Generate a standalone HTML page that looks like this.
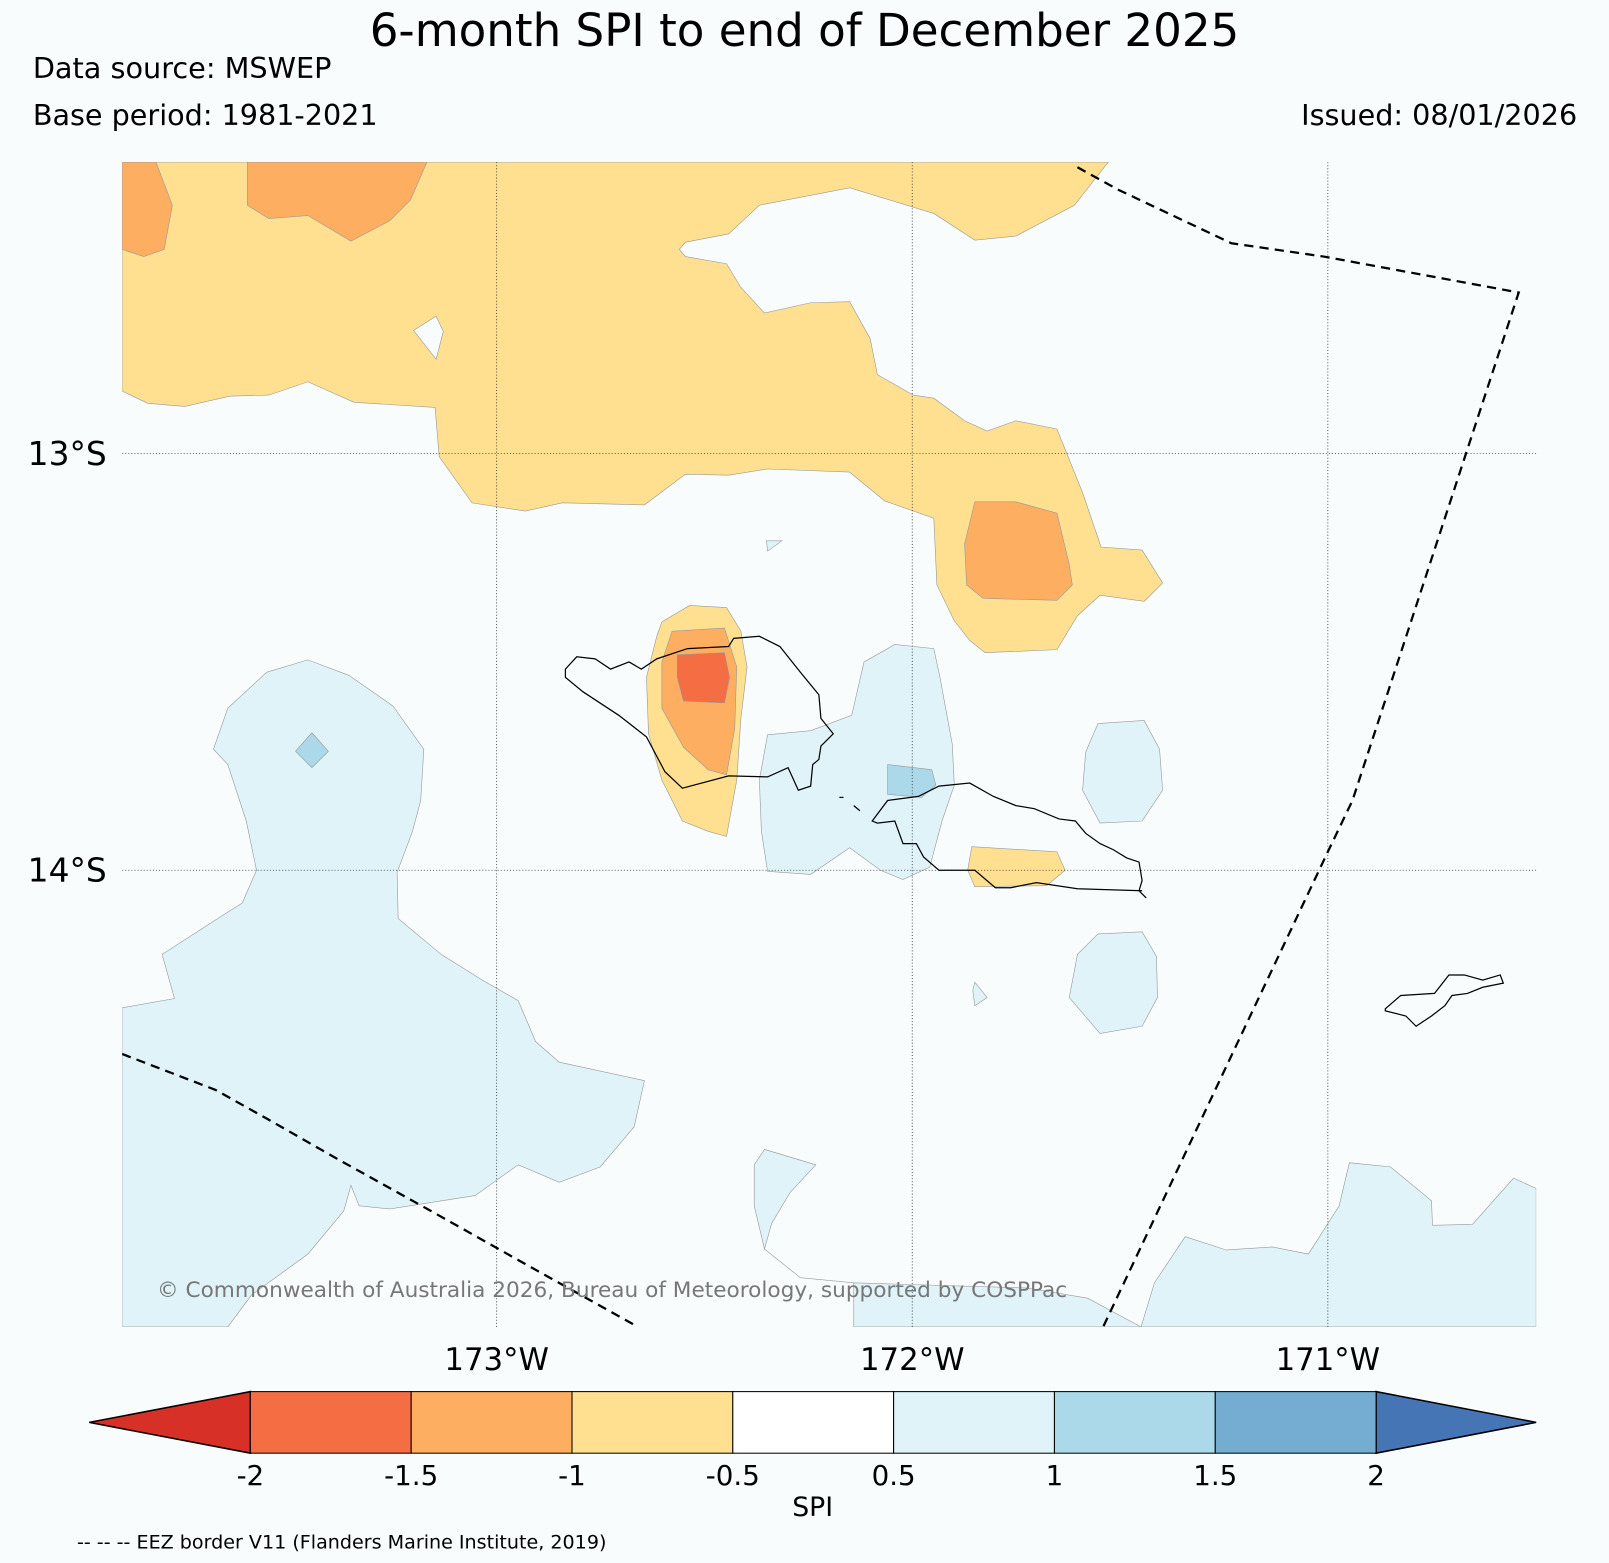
<!DOCTYPE html>
<html><head><meta charset="utf-8"><style>
html,body{margin:0;padding:0;background:#f8fcfd;}
svg{display:block;font-family:"DejaVu Sans","Liberation Sans",sans-serif;}
</style></head><body>
<svg id="fig" width="1609" height="1563" viewBox="0 0 1568 1523" preserveAspectRatio="none" xmlns="http://www.w3.org/2000/svg">
<rect width="1568" height="1523" fill="#f8fcfd"/>
<text x="784" y="45" font-size="44" text-anchor="middle">6-month SPI to end of December 2025</text>
<text x="32" y="76" font-size="28" textLength="291" lengthAdjust="spacingAndGlyphs">Data source: MSWEP</text>
<text x="32" y="122" font-size="28" textLength="336" lengthAdjust="spacingAndGlyphs">Base period: 1981-2021</text>
<text x="1537" y="122" font-size="28" text-anchor="end" textLength="269" lengthAdjust="spacingAndGlyphs">Issued: 08/01/2026</text>
<defs><clipPath id="mc"><rect x="119" y="158" width="1378" height="1135"/></clipPath></defs>
<g id="map" clip-path="url(#mc)" stroke="#999" stroke-width="0.6">
<polygon fill="#fee090" points="119,158 1080,158 1047,200 990,230 950,234 910,208 828,183 740,200 710,228 668,236 662,243 668,250 708,257 722,280 745,305 790,295 828,294 848,330 855,365 890,385 910,388 940,410 962,420 990,410 1030,418 1055,480 1073,533 1113,536 1133,568 1115,586 1072,580 1050,600 1030,633 960,636 945,624 930,605 913,570 910,505 862,488 828,460 748,457 710,463 668,462 628,492 548,490 512,498 460,490 428,445 424,397 345,392 300,372 262,385 224,386 180,396 144,393 119,381"/>
<polygon fill="#f8fcfd" points="403,322 425,308 432,323 425,350"/>
<polygon fill="#fdae61" points="119,158 152,158 168,200 160,243 140,250 119,243"/>
<polygon fill="#fdae61" points="241,158 416,158 400,195 380,215 342,235 300,210 262,213 241,200"/>
<polygon fill="#fdae61" points="950,489 990,489 1030,500 1042,550 1045,570 1030,585 958,583 942,570 940,530"/>
<polygon fill="#fee090" points="645,606 672,590 708,592 722,615 728,650 722,700 718,760 708,815 690,810 665,800 645,760 632,715 630,660 640,620"/>
<polygon fill="#fdae61" points="655,615 706,612 718,650 716,710 708,755 690,750 666,728 645,690 645,645"/>
<polygon fill="#f46d43" points="660,638 706,636 711,660 706,685 666,683 660,660"/>
<polygon fill="#e0f3f8" points="119,982 170,973 158,930 220,890 236,880 250,848 240,800 222,745 208,730 222,690 260,655 300,643 340,658 383,688 413,730 410,780 402,810 387,850 388,895 430,930 470,955 505,975 522,1015 545,1035 628,1053 618,1098 585,1137 545,1152 505,1135 463,1165 380,1178 350,1175 342,1155 335,1180 300,1222 245,1262 222,1293 119,1293"/>
<polygon fill="#abd9e9" points="288,732 304,714 320,732 304,748"/>
<polygon fill="#e0f3f8" points="748,716 790,712 830,697 842,645 872,628 910,632 916,660 928,725 930,765 918,800 906,845 880,857 858,848 828,826 790,852 748,849 742,810 740,760"/>
<polygon fill="#abd9e9" points="865,745 908,750 912,765 898,777 865,774"/>
<polygon fill="#fee090" points="947,825 1030,830 1038,848 1020,863 950,864 943,848"/>
<polygon fill="#e0f3f8" points="1070,705 1115,702 1130,730 1133,770 1113,800 1072,802 1055,770 1058,733"/>
<polygon fill="#e0f3f8" points="1070,910 1113,908 1127,932 1128,972 1113,1000 1072,1007 1042,972 1050,930"/>
<polygon fill="#e0f3f8" points="950,957 962,972 950,980 948,965"/>
<polygon fill="#e0f3f8" points="747,527 762,527 748,537"/>
<polygon fill="#e0f3f8" points="735,1135 745,1120 795,1135 770,1162 752,1192 745,1217 735,1175"/>
<polygon fill="#e0f3f8" points="832,1250 1000,1255 1060,1265 1112,1293 832,1293"/>
<polyline fill="none" points="745,1217 780,1245 832,1250"/>
<polygon fill="#e0f3f8" points="1112,1293 1125,1250 1155,1205 1195,1218 1240,1215 1275,1222 1305,1175 1315,1133 1355,1137 1395,1170 1396,1194 1435,1193 1475,1148 1497,1158 1497,1293"/>
<g stroke="#333" stroke-width="0.8" stroke-dasharray="1,2">
<line x1="484" y1="158" x2="484" y2="1293"/><line x1="889" y1="158" x2="889" y2="1293"/><line x1="1294" y1="158" x2="1294" y2="1293"/>
<line x1="119" y1="442" x2="1497" y2="442"/><line x1="119" y1="848" x2="1497" y2="848"/>
</g>
<g fill="none" stroke="#000" stroke-width="1.2">
<polygon points="551,652 562,640 580,642 595,652 613,645 625,652 640,642 670,632 710,630 715,622 740,620 760,630 780,655 798,677 800,700 812,715 800,727 798,740 792,745 790,766 778,770 768,748 748,757 710,756 665,768 648,752 630,718 603,697 568,674 551,660"/>
<polyline points="1117,875 1110,868 1113,858 1110,840 1098,836 1085,828 1072,822 1058,812 1048,800 1032,798 1008,788 990,785 968,776 945,763 915,766 895,776 865,780 850,800 855,802 872,800 880,822 893,822 900,835 915,848 950,848 970,865 985,865 1010,860 1050,866 1113,868"/>
<polygon points="1350,983 1365,970 1398,968 1412,950 1427,950 1445,955 1462,950 1465,958 1445,962 1430,968 1415,970 1408,980 1395,990 1380,1000 1370,990 1350,985"/>
<line x1="818" y1="777" x2="822" y2="777"/><line x1="832" y1="785" x2="838" y2="790"/>
</g>
<g fill="none" stroke="#000" stroke-width="2.2" stroke-dasharray="9,6">
<polyline points="1050,163 1090,185 1200,237 1290,250 1480,285 1318,780 1294,830 1075,1293"/>
<polyline points="119,1027 210,1062 260,1090 330,1130 420,1180 500,1225 620,1292"/>
</g>
</g>
<text x="153" y="1264" font-size="21" fill="#777" textLength="887" lengthAdjust="spacingAndGlyphs">© Commonwealth of Australia 2026, Bureau of Meteorology, supported by COSPPac</text>
<text x="104" y="453" font-size="32" text-anchor="end">13°S</text>
<text x="104" y="859" font-size="32" text-anchor="end">14°S</text>
<text x="484" y="1335" font-size="30" text-anchor="middle">173°W</text>
<text x="889" y="1335" font-size="30" text-anchor="middle">172°W</text>
<text x="1294" y="1335" font-size="30" text-anchor="middle">171°W</text>
<g id="cbar"></g>
<text x="792" y="1477" font-size="26" text-anchor="middle">SPI</text>
<text x="75" y="1509" font-size="18" textLength="516" lengthAdjust="spacingAndGlyphs">-- -- -- EEZ border V11 (Flanders Marine Institute, 2019)</text>
</svg>
<script>
const levels = [-2, -1.5, -1, -0.5, 0.5, 1, 1.5, 2];
const tickLabels = ["-2", "-1.5", "-1", "-0.5", "0.5", "1", "1.5", "2"];
const binColors = ["#f46d43", "#fdae61", "#fee090", "#ffffff", "#e0f3f8", "#abd9e9", "#74add1"];
const underColor = "#d73027";
const overColor = "#4575b4";
const NS = "http://www.w3.org/2000/svg";
const g = document.getElementById("cbar");
const x0 = 244, x1 = 1341, y0 = 1356, y1 = 1416;
function xi(i) { return x0 + (x1 - x0) * i / (levels.length - 1); }
function mk(tag, attrs) { const e = document.createElementNS(NS, tag); for (const k in attrs) e.setAttribute(k, attrs[k]); g.appendChild(e); return e; }
const ym = (y0 + y1) / 2;
let under = mk("polygon", {points: `${x0},${y0} ${x0},${y1} 87,${ym}`, fill: underColor, stroke: "#000", "stroke-width": 1.5});


let over = mk("polygon", {points: `${x1},${y0} ${x1},${y1} 1497,${ym}`, fill: overColor, stroke: "#000", "stroke-width": 1.5});


binColors.forEach((c, i) => {
  const r = mk("rect", {x: xi(i), y: y0, width: xi(i + 1) - xi(i), height: y1 - y0, fill: c, stroke: "#000", "stroke-width": 1});
  
  
});
tickLabels.forEach((t, i) => {
  const tx = mk("text", {x: xi(i), y: 1447, "font-size": 27, "text-anchor": "middle"});
  tx.textContent = t;
  
  
});
</script>
</body></html>
